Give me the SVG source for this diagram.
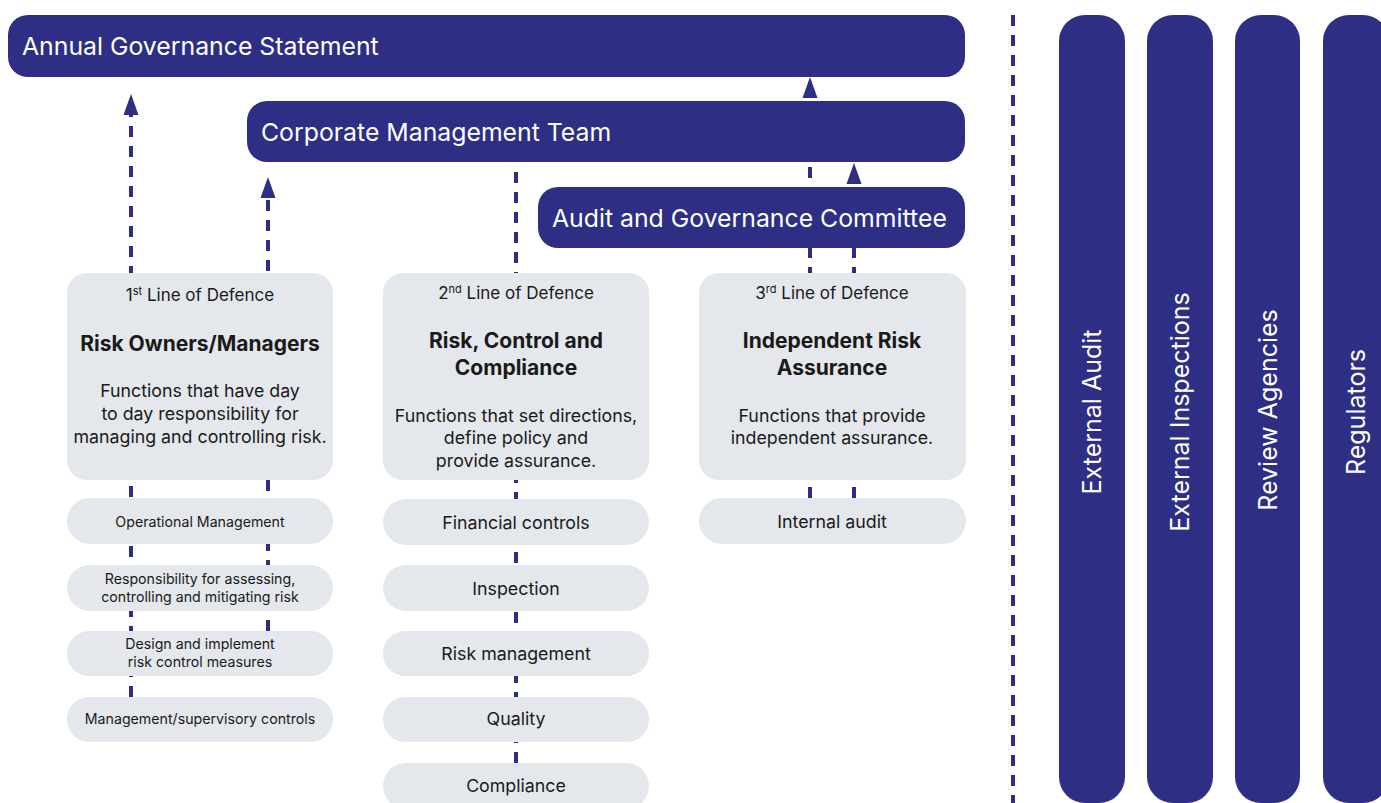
<svg xmlns="http://www.w3.org/2000/svg" width="1381" height="803" viewBox="0 0 1381 803">
<defs>
<marker id="arr" markerUnits="userSpaceOnUse" markerWidth="22" markerHeight="16" refX="0" refY="7.5" orient="auto" viewBox="0 0 22 15">
<path d="M0,0 L21,7.5 L0,15 z" fill="#2e2e84"/>
</marker>
<style>
.navy{fill:#2e2e84}
.grey{fill:#e4e7eb}
.dash{stroke:#2e2e84;stroke-width:4;stroke-dasharray:11 9;fill:none}
.hdr{font-family:Inter,"Liberation Sans",sans-serif;font-size:24.8px;fill:#ffffff}
.bar{font-family:Inter,"Liberation Sans",sans-serif;font-size:25px;fill:#ffffff}
.t{font-family:Inter,"Liberation Sans",sans-serif;fill:#1a1a1a;text-anchor:middle}
.lod{font-size:17px}
.head{font-size:21px;font-weight:bold}
.body{font-size:17.8px}
.p1{font-size:14.2px}
.p2{font-size:17.8px}
</style>
</defs>
<rect width="1381" height="803" fill="#ffffff"/>
<g id="connectors">
<line class="dash" x1="131" y1="697" x2="131" y2="115" marker-end="url(#arr)"/>
<line class="dash" x1="268" y1="631" x2="268" y2="198" marker-end="url(#arr)"/>
<line class="dash" x1="516" y1="763" x2="516" y2="164"/>
<line class="dash" x1="810" y1="498" x2="810" y2="98" marker-end="url(#arr)"/>
<line class="dash" x1="854" y1="498" x2="854" y2="184" marker-end="url(#arr)"/>
<line class="dash" x1="1013" y1="15" x2="1013" y2="803"/>
</g>
<g id="ags"><rect class="navy" x="8" y="15" width="957" height="62" rx="20"/><text class="hdr" x="22" y="55">Annual Governance Statement</text></g>
<g id="cmt"><rect class="navy" x="247" y="101" width="718" height="61" rx="20"/><text class="hdr" x="261" y="141">Corporate Management Team</text></g>
<g id="agc"><rect class="navy" x="538" y="187" width="427" height="61" rx="20"/><text class="hdr" x="552" y="227">Audit and Governance Committee</text></g>
<g id="line1">
<rect class="grey" x="67" y="273" width="266" height="207" rx="20"/>
<text class="t lod" x="200" y="301">1<tspan font-size="11" dy="-6">st</tspan><tspan dy="6"> Line of Defence</tspan></text>
<text class="t head" x="200" y="351">Risk Owners/Managers</text>
<text class="t body" x="200" y="397">Functions that have day</text>
<text class="t body" x="200" y="420">to day responsibility for</text>
<text class="t body" x="200" y="443">managing and controlling risk.</text>
</g>
<g id="line2">
<rect class="grey" x="383" y="273" width="266" height="207" rx="20"/>
<text class="t lod" x="516" y="299">2<tspan font-size="11" dy="-6">nd</tspan><tspan dy="6"> Line of Defence</tspan></text>
<text class="t head" x="516" y="348">Risk, Control and</text>
<text class="t head" x="516" y="375">Compliance</text>
<text class="t body" x="516" y="422">Functions that set directions,</text>
<text class="t body" x="516" y="444">define policy and</text>
<text class="t body" x="516" y="467">provide assurance.</text>
</g>
<g id="line3">
<rect class="grey" x="699" y="273" width="267" height="207" rx="20"/>
<text class="t lod" x="832" y="299">3<tspan font-size="11" dy="-6">rd</tspan><tspan dy="6"> Line of Defence</tspan></text>
<text class="t head" x="832" y="348">Independent Risk</text>
<text class="t head" x="832" y="375">Assurance</text>
<text class="t body" x="832" y="422">Functions that provide</text>
<text class="t body" x="832" y="444">independent assurance.</text>
</g>
<g id="opman"><rect class="grey" x="67" y="498" width="266" height="46" rx="23"/><text class="t p1" x="200" y="527">Operational Management</text></g>
<g id="resp"><rect class="grey" x="67" y="565" width="266" height="46" rx="23"/><text class="t p1" x="200" y="584">Responsibility for assessing,</text><text class="t p1" x="200" y="602">controlling and mitigating risk</text></g>
<g id="design"><rect class="grey" x="67" y="631" width="266" height="45" rx="22"/><text class="t p1" x="200" y="649">Design and implement</text><text class="t p1" x="200" y="667">risk control measures</text></g>
<g id="mgmt"><rect class="grey" x="67" y="697" width="266" height="45" rx="22"/><text class="t p1" x="200" y="724">Management/supervisory controls</text></g>
<g id="fin"><rect class="grey" x="383" y="499" width="266" height="46" rx="23"/><text class="t p2" x="516" y="529">Financial controls</text></g>
<g id="insp"><rect class="grey" x="383" y="565" width="266" height="46" rx="23"/><text class="t p2" x="516" y="595">Inspection</text></g>
<g id="riskm"><rect class="grey" x="383" y="631" width="266" height="45" rx="22"/><text class="t p2" x="516" y="660">Risk management</text></g>
<g id="qual"><rect class="grey" x="383" y="697" width="266" height="45" rx="22"/><text class="t p2" x="516" y="725">Quality</text></g>
<g id="comp"><rect class="grey" x="383" y="763" width="266" height="46" rx="23"/><text class="t p2" x="516" y="792">Compliance</text></g>
<g id="ia"><rect class="grey" x="699" y="498" width="267" height="46" rx="23"/><text class="t p2" x="832" y="528">Internal audit</text></g>
<g id="extaudit"><rect class="navy" x="1059" y="15" width="66" height="788" rx="26"/><text class="bar" text-anchor="middle" transform="translate(1101,412) rotate(-90)">External Audit</text></g>
<g id="extinsp"><rect class="navy" x="1147" y="15" width="66" height="788" rx="26"/><text class="bar" text-anchor="middle" transform="translate(1189,412) rotate(-90)">External Inspections</text></g>
<g id="review"><rect class="navy" x="1235" y="15" width="65" height="788" rx="26"/><text class="bar" text-anchor="middle" transform="translate(1277,410) rotate(-90)">Review Agencies</text></g>
<g id="reg"><rect class="navy" x="1323" y="15" width="66" height="788" rx="26"/><text class="bar" text-anchor="middle" transform="translate(1365,412) rotate(-90)">Regulators</text></g>
</svg>
